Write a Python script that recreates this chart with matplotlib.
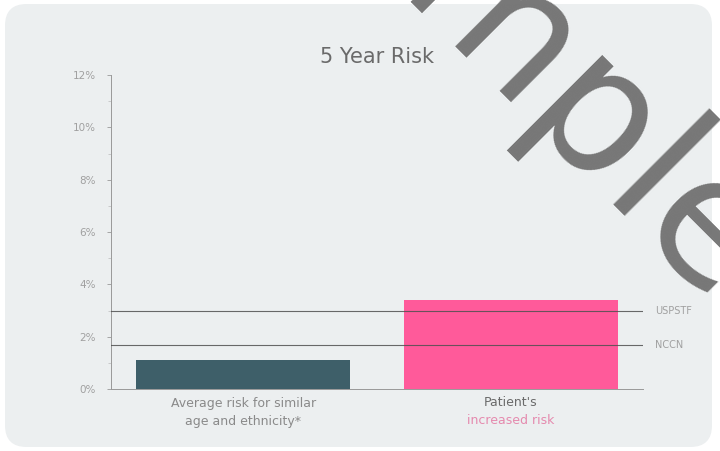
import matplotlib
matplotlib.use("Agg")
import matplotlib.pyplot as plt
from matplotlib.patches import FancyBboxPatch
from matplotlib.ticker import MultipleLocator, FuncFormatter
import matplotlib.transforms as mtransforms

# Data
categories = ["Average risk for similar\nage and ethnicity*", "Patient's\nincreased risk"]
risk_values = [1.1, 3.4]
bar_colors = ["#3E5F69", "#FF5A9A"]
guideline_names = ["USPSTF", "NCCN"]
guideline_values = [3.0, 1.7]
y_ticks = [0, 2, 4, 6, 8, 10, 12]

W, H = 720, 451
fig = plt.figure(figsize=(W / 100, H / 100), dpi=100, facecolor="white")

# Rounded card behind the chart
card = FancyBboxPatch((5 / W, 1 - 447 / H), 707 / W, 443 / H,
                      boxstyle="round,pad=0,rounding_size=0.03",
                      transform=fig.transFigure, facecolor="#ECEFF0",
                      edgecolor="none", zorder=-5, mutation_aspect=W / H)
fig.patches.append(card)

ax = fig.add_axes([111 / W, 62 / H, 532 / W, 314 / H])
ax.set_facecolor("none")
ax.set_zorder(1)

x = list(range(len(categories)))
ax.bar(x, risk_values, width=0.8, color=bar_colors, zorder=2)

# Guideline thresholds
for name, val in zip(guideline_names, guideline_values):
    ax.axhline(val, color="#505050", lw=0.8, alpha=0.85, zorder=3)
    ax.text(1.022, val, name, transform=mtransforms.blended_transform_factory(ax.transAxes, ax.transData),
            ha="left", va="center", fontsize=7, color="#A0A0A0")

ax.set_xlim(-0.495, 1.495)
ax.set_ylim(0, 12)
ax.set_yticks(y_ticks)
ax.yaxis.set_major_formatter(FuncFormatter(lambda v, p: f"{int(v)}%"))
ax.yaxis.set_minor_locator(MultipleLocator(1))
ax.tick_params(axis="y", which="major", length=3, width=0.6, color="#999999",
               labelsize=7.5, labelcolor="#A0A0A0", pad=8)
ax.tick_params(axis="y", which="minor", length=2, width=0.5, color="#BBBBBB")
ax.set_xticks([])

for s in ["top", "right"]:
    ax.spines[s].set_visible(False)
ax.spines["left"].set_color("#999999")
ax.spines["left"].set_linewidth(0.7)
ax.spines["bottom"].set_color("#999999")
ax.spines["bottom"].set_linewidth(0.7)

# Category labels
lab_tr = mtransforms.blended_transform_factory(ax.transData, fig.transFigure)
ax.text(x[0], 1 - 403 / H, "Average risk for similar", transform=lab_tr, ha="center", va="center",
        fontsize=9, color="#8A8A8A")
ax.text(x[0], 1 - 421 / H, "age and ethnicity*", transform=lab_tr, ha="center", va="center",
        fontsize=9, color="#8A8A8A")
ax.text(x[1], 1 - 403 / H, "Patient's", transform=lab_tr, ha="center", va="center",
        fontsize=9, color="#6A6A6A")
ax.text(x[1], 1 - 421 / H, "increased risk", transform=lab_tr, ha="center", va="center",
        fontsize=9, color="#E58AAE")

# Title
fig.text(377 / W, 1 - 57 / H, "5 Year Risk", ha="center", va="center",
         fontsize=15, color="#6A6A6A")

# Watermark
fig.text(238 / W, 1 + 158 / H, "Sample", rotation=-45, rotation_mode="anchor",
         ha="left", va="baseline", fontsize=128, color="#777777", zorder=10)

fig.savefig("out.png", dpi=100, facecolor="white")
